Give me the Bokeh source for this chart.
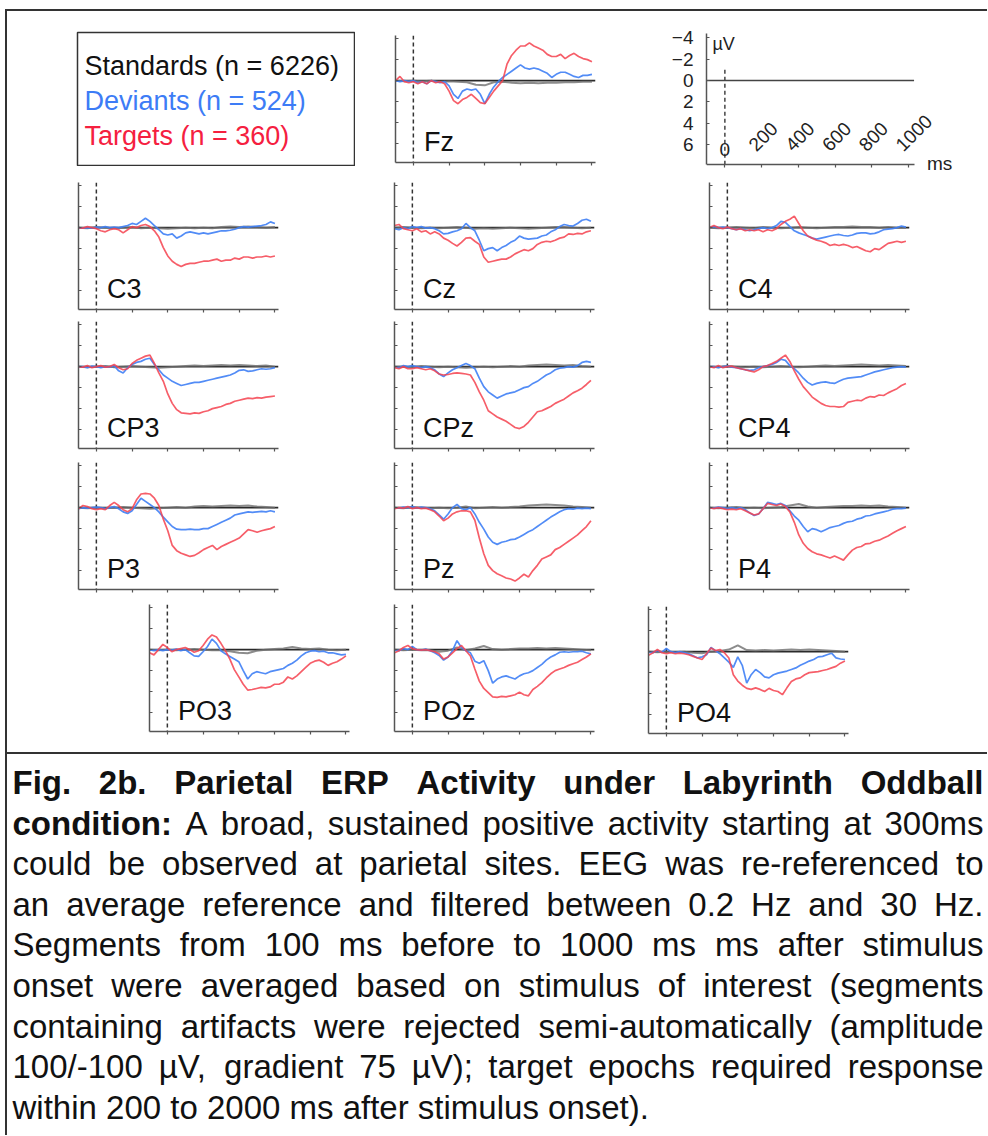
from math import pi
from bokeh.plotting import figure
from bokeh.models import (Range1d, FixedTicker, Span, Label, LabelSet,
                          ColumnDataSource, Spacer, Div)
from bokeh.layouts import row, column
from bokeh.embed import file_html
from bokeh.resources import INLINE
from bokeh.core.properties import value

# ------------------------------------------------------------------ data
TIME_MS = list(range(-100, 1001, 25))        # deviants / targets sampling
STD_TIME_MS = list(range(-100, 1001, 50))    # standards sampling
X_TICKS = [0, 200, 400, 600, 800, 1000]
Y_TICKS = [-4, -2, 0, 2, 4, 6]
SCALE_X_LABEL_TICKS = [200, 400, 600, 800, 1000]
SCALE_X_LABELS = ["200", "400", "600", "800", "1000"]

LEGEND_LABELS = ["Standards (n = 6226)", "Deviants (n = 524)", "Targets (n = 360)"]

FZ_TGT = [0.0, -0.4, 0.1, 0.2, 0.1, 0.3, 0.1, 0.3, 0.0,
          0.2, 0.1, 0.3, 1.0, 1.9, 2.2, 1.8, 1.6, 1.3,
          1.7, 2.1, 2.2, 1.6, 1.0, 0.5, 0.0, -1.6, -2.4,
          -2.9, -3.3, -3.3, -3.6, -3.3, -3.1, -2.9, -2.5, -2.3,
          -2.3, -2.5, -2.1, -2.4, -2.6, -2.3, -2.1, -2.0, -1.8]
FZ_DEV = [0.0, 0.1, 0.0, 0.1, 0.0, 0.2, 0.1, 0.3, 0.0,
          0.1, 0.2, 0.1, 0.5, 1.3, 1.7, 1.0, 0.8, 0.9,
          0.8, 1.3, 2.2, 1.3, 0.6, 0.1, -0.3, -0.6, -0.9,
          -1.2, -1.5, -1.2, -1.1, -1.2, -1.1, -0.9, -0.7, -0.3,
          -0.6, -0.8, -0.8, -0.6, -0.4, -0.3, -0.5, -0.5, -0.6]
FZ_STD = [0.0, 0.05, 0.0, 0.05, 0.0, 0.1, 0.05, 0.1, 0.15, 0.4, 0.45, 0.15,
          0.1, 0.2, 0.25, 0.2, 0.25, 0.2, 0.2, 0.15, 0.15, 0.1, 0.1]

C3_TGT = [0.0, 0.05, -0.1, 0.0, 0.1, 0.3, 0.4, 0.2, 0.1,
          0.2, 0.5, 0.2, -0.1, 0.0, -0.2, -0.3, -0.1, 0.3,
          0.9, 1.9, 2.7, 3.2, 3.5, 3.7, 3.5, 3.4, 3.4,
          3.3, 3.2, 3.2, 3.1, 3.0, 3.2, 3.1, 3.1, 2.9,
          3.0, 2.8, 2.8, 2.9, 2.8, 2.8, 2.7, 2.8, 2.7]
C3_DEV = [0.0, 0.05, 0.0, 0.05, -0.05, 0.0, -0.1, 0.0, -0.05,
          0.0, -0.1, -0.2, -0.4, -0.3, -0.6, -0.9, -0.6, -0.2,
          0.2, 0.6, 0.7, 0.6, 1.0, 0.8, 0.5, 0.4, 0.5,
          0.6, 0.5, 0.6, 0.5, 0.4, 0.3, 0.3, 0.25, 0.15,
          0.0, -0.1, -0.05, -0.1, -0.15, -0.2, -0.3, -0.55, -0.4]
C3_STD = [0.0, 0.05, -0.05, 0.0, 0.05, 0.0, -0.05, 0.05, 0.0, 0.05, 0.1, 0.05,
          0.0, 0.05, 0.0, 0.05, -0.05, -0.1, -0.05, -0.1, -0.05, 0.0, -0.05]

CZ_TGT = [-0.2, -0.3, 0.1, 0.2, 0.3, 0.1, 0.4, 0.3, 0.6,
          0.4, 0.6, 1.0, 1.2, 1.5, 1.75, 1.4, 1.0, 0.95,
          1.3, 1.6, 2.8, 3.3, 3.2, 3.1, 3.0, 3.0, 2.8,
          2.5, 2.3, 2.1, 2.2, 2.0, 1.6, 1.4, 1.3, 1.35,
          1.2, 1.0, 0.9, 0.6, 0.65, 0.55, 0.6, 0.4, 0.3]
CZ_DEV = [0.1, 0.2, 0.0, 0.1, -0.1, 0.0, -0.1, 0.05, 0.0,
          0.1, 0.3, 0.6, 0.55, 0.4, 0.3, 0.1, -0.4, 0.0,
          0.3, 1.2, 2.2, 2.0, 1.9, 2.2, 1.9, 1.7, 1.4,
          1.2, 0.8, 1.0, 1.1, 1.05, 1.0, 0.8, 0.7, 0.4,
          0.2, -0.1, -0.3, -0.2, -0.15, -0.4, -0.7, -0.8, -0.6]
CZ_STD = [0.0, -0.05, 0.0, 0.05, 0.0, 0.05, 0.0, -0.05, 0.0, 0.1, 0.05, 0.1,
          0.05, 0.0, 0.05, 0.1, 0.05, 0.0, -0.05, -0.05, 0.0, 0.05, 0.0]

C4_TGT = [0.0, -0.2, 0.0, 0.1, -0.05, 0.1, 0.2, 0.1, 0.3,
          0.2, 0.3, 0.2, 0.4, 0.2, 0.3, 0.1, -0.3, -0.6,
          -0.8, -1.1, -0.4, 0.3, 0.8, 1.0, 1.2, 1.3, 1.45,
          1.7, 1.6, 1.7, 1.6, 1.7, 1.9, 1.8, 2.0, 2.2,
          2.3, 2.0, 2.1, 1.8, 1.5, 1.4, 1.3, 1.4, 1.3]
C4_DEV = [0.0, -0.1, 0.0, -0.05, 0.0, 0.1, 0.2, 0.1, 0.2,
          0.3, 0.2, 0.1, 0.0, 0.1, 0.0, -0.2, -0.6, -0.5,
          -0.1, 0.3, 0.5, 0.65, 0.8, 1.0, 1.1, 1.0, 0.9,
          0.8, 0.7, 0.65, 0.75, 0.8, 0.7, 0.55, 0.5, 0.5,
          0.6, 0.55, 0.4, 0.2, 0.15, 0.1, 0.0, -0.15, -0.05]
C4_STD = [0.0, 0.05, 0.0, -0.05, 0.0, 0.05, -0.05, 0.0, 0.05, 0.0, -0.05, 0.0,
          0.05, 0.0, -0.05, -0.05, -0.1, -0.05, -0.05, 0.0, -0.05, 0.0, 0.0]

CP3_TGT = [0.0, 0.05, -0.1, 0.1, 0.0, -0.1, 0.05, 0.0, -0.2,
           0.1, 0.3, 0.2, -0.3, -0.6, -0.8, -1.0, -1.1, -0.3,
           0.6, 1.4, 2.6, 3.5, 4.1, 4.4, 4.45, 4.5, 4.4,
           4.45, 4.3, 4.2, 4.0, 3.9, 3.8, 3.6, 3.5, 3.3,
           3.2, 3.1, 3.0, 3.05, 2.95, 3.0, 2.9, 2.85, 2.8]
CP3_DEV = [0.0, 0.0, 0.1, -0.05, 0.0, 0.1, 0.0, 0.05, -0.1,
           0.4, 0.6, 0.1, -0.2, -0.4, -0.5, -0.7, -0.8, -0.2,
           0.3, 0.8, 1.1, 1.4, 1.6, 1.8, 1.7, 1.6, 1.5,
           1.5, 1.4, 1.3, 1.2, 1.1, 1.0, 0.9, 0.8, 0.6,
           0.35, 0.3, 0.45, 0.4, 0.3, 0.2, 0.25, 0.2, 0.1]
CP3_STD = [0.0, 0.05, 0.0, -0.05, 0.05, 0.0, -0.05, 0.0, 0.05, 0.1, 0.05, 0.0,
           -0.05, -0.1, -0.05, -0.1, -0.15, -0.1, -0.15, -0.1, -0.05, -0.1, 0.0]

CPZ_TGT = [0.1, 0.2, 0.0, 0.2, 0.2, 0.1, 0.2, 0.3, 0.2,
           0.4, 0.7, 0.8, 0.75, 0.65, 0.6, 0.65, 0.7, 0.8,
           1.5, 2.4, 3.2, 4.2, 4.5, 4.8, 5.0, 5.2, 5.5,
           5.8, 5.9, 5.7, 5.3, 4.8, 4.3, 4.2, 4.0, 3.8,
           3.5, 3.3, 3.1, 2.8, 2.5, 2.3, 2.05, 1.7, 1.3]
CPZ_DEV = [0.0, 0.1, -0.1, 0.0, -0.1, 0.0, 0.1, 0.0, 0.1,
           0.3, 0.7, 0.95, 0.6, 0.3, 0.1, -0.1, -0.3, -0.1,
           0.2, 1.1, 1.9, 2.4, 2.7, 3.0, 2.8, 2.6, 2.5,
           2.4, 2.2, 2.0, 1.9, 1.6, 1.4, 1.1, 0.8, 0.6,
           0.3, 0.15, 0.1, 0.0, 0.05, -0.1, -0.4, -0.5, -0.4]
CPZ_STD = [0.0, 0.0, 0.05, -0.05, 0.0, 0.05, 0.0, 0.05, 0.1, 0.05, 0.0, 0.05,
           0.0, -0.05, 0.0, -0.1, -0.15, -0.2, -0.15, -0.1, -0.15, -0.05, 0.0]

CP4_TGT = [0.0, 0.1, -0.1, 0.1, 0.0, -0.05, 0.1, 0.2, 0.3,
           0.4, 0.5, 0.3, 0.0, -0.1, -0.3, -0.5, -0.8, -1.1,
           -0.5, 0.4, 1.2, 1.9, 2.4, 2.9, 3.2, 3.5, 3.7,
           3.8, 3.8, 3.85, 3.8, 3.4, 3.3, 3.2, 3.25, 3.0,
           2.85, 2.9, 2.7, 2.75, 2.5, 2.3, 2.1, 1.8, 1.6]
CP4_DEV = [0.0, 0.0, 0.1, 0.0, -0.05, 0.05, 0.1, 0.2, 0.3,
           0.35, 0.3, 0.1, 0.0, -0.1, -0.2, -0.4, -0.7, -0.6,
           -0.1, 0.2, 0.6, 1.1, 1.5, 1.75, 1.6, 1.5, 1.45,
           1.55, 1.6, 1.4, 1.2, 1.1, 1.05, 1.0, 0.95, 0.8,
           0.65, 0.5, 0.4, 0.3, 0.2, 0.1, 0.05, 0.0, 0.05]
CP4_STD = [0.0, 0.05, -0.05, 0.0, 0.05, 0.0, 0.05, 0.0, -0.05, 0.0, 0.05, 0.0,
           -0.05, -0.1, -0.05, -0.1, -0.15, -0.2, -0.15, -0.1, -0.15, -0.1, -0.05]

P3_TGT = [0.1, -0.2, -0.1, 0.1, 0.2, 0.1, 0.2, -0.2, -0.5,
          -0.2, 0.2, 0.4, 0.1, -0.75, -1.3, -1.35, -1.3, -0.9,
          -0.2, 1.1, 2.2, 3.6, 4.1, 4.35, 4.5, 4.65, 4.55,
          4.3, 4.0, 3.8, 3.6, 4.0, 3.7, 3.5, 3.3, 3.1,
          2.9, 2.5, 2.1, 2.2, 2.35, 2.2, 2.1, 2.0, 1.8]
P3_DEV = [0.1, 0.0, 0.05, 0.0, -0.05, 0.0, 0.1, 0.0, -0.1,
          0.1, 0.4, 0.55, 0.3, -0.3, -0.9, -0.6, -0.3, 0.0,
          0.4, 0.9, 1.35, 1.8, 2.05, 2.1, 2.1, 2.05, 2.1,
          2.1, 2.0, 2.0, 1.8, 1.6, 1.4, 1.2, 1.0, 0.7,
          0.6, 0.5, 0.4, 0.45, 0.4, 0.35, 0.4, 0.3, 0.4]
P3_STD = [0.0, 0.05, 0.0, 0.05, 0.0, -0.05, 0.0, 0.05, 0.1, 0.05, 0.0, -0.05,
          0.0, -0.1, -0.15, -0.1, -0.15, -0.2, -0.15, -0.2, -0.1, -0.05, 0.0]

PZ_TGT = [0.1, 0.0, 0.05, -0.1, 0.1, 0.0, 0.1, 0.05, 0.2,
          0.4, 0.8, 1.25, 1.0, 0.6, 0.4, 0.3, 0.3, 0.4,
          1.2, 2.9, 4.4, 5.5, 6.0, 6.3, 6.5, 6.7, 6.8,
          7.0, 6.7, 6.35, 6.6, 6.0, 5.5, 4.9, 4.7, 4.5,
          4.0, 3.8, 3.5, 3.2, 2.9, 2.6, 2.2, 1.8, 1.25]
PZ_DEV = [0.0, 0.05, -0.05, 0.0, -0.1, 0.05, -0.05, 0.0, 0.1,
          0.3, 0.7, 1.1, 0.6, 0.0, -0.3, 0.1, 0.2, 0.0,
          0.6, 1.4, 2.05, 2.8, 3.3, 3.5, 3.3, 3.2, 3.05,
          3.0, 2.8, 2.55, 2.3, 2.1, 1.8, 1.5, 1.2, 0.9,
          0.65, 0.4, 0.2, 0.1, 0.15, 0.05, 0.1, 0.05, 0.1]
PZ_STD = [0.0, 0.05, -0.05, 0.0, 0.05, 0.0, 0.05, 0.0, -0.1, 0.05, 0.0, -0.05,
          0.0, -0.05, -0.1, -0.2, -0.25, -0.3, -0.25, -0.2, -0.1, -0.05, 0.0]

P4_TGT = [0.0, 0.1, 0.0, 0.1, 0.2, 0.15, 0.2, 0.1, 0.3,
          0.5, 0.7, 0.6, 0.1, -0.4, -0.3, -0.2, -0.35, -0.1,
          0.4, 1.4, 2.6, 3.4, 3.9, 4.2, 4.4, 4.5, 4.65,
          4.8, 4.6, 4.8, 5.0, 4.5, 4.05, 3.8, 3.7, 3.45,
          3.4, 3.2, 3.1, 2.9, 2.7, 2.45, 2.2, 2.0, 1.8]
P4_DEV = [0.0, 0.05, -0.05, 0.0, 0.1, 0.0, 0.1, 0.0, 0.2,
          0.5, 0.75, 0.6, 0.1, -0.5, -0.4, -0.3, -0.4, -0.2,
          0.3, 0.8, 1.2, 1.8, 2.3, 2.0, 2.1, 2.3, 2.1,
          1.9, 1.8, 1.7, 1.5, 1.35, 1.3, 1.1, 1.0, 0.8,
          0.75, 0.6, 0.5, 0.4, 0.3, 0.15, 0.1, 0.1, 0.05]
P4_STD = [0.0, 0.05, 0.0, -0.05, 0.05, 0.0, 0.05, 0.0, -0.05, -0.2, -0.35, -0.1,
          0.0, -0.05, -0.1, -0.15, -0.15, -0.2, -0.15, -0.2, -0.1, -0.05, 0.0]

PO3_TGT = [0.3, 0.5, 0.0, -0.5, -0.2, 0.2, 0.0, -0.1, -0.2,
           0.0, 0.25, 0.1, -0.4, -1.0, -1.4, -1.2, -0.6, 0.1,
           0.9, 1.9, 2.6, 3.3, 3.85, 3.8, 3.7, 3.6, 3.65,
           3.55, 3.3, 3.3, 3.1, 2.6, 2.8, 2.5, 2.1, 1.7,
           1.3, 1.1, 1.0, 1.2, 1.5, 1.3, 1.15, 0.9, 0.6]
PO3_DEV = [0.0, 0.1, 0.0, 0.1, 0.0, 0.05, -0.05, 0.1, 0.0,
           0.3, 0.6, 0.65, 0.2, -0.3, -1.0, -0.6, 0.1, 0.4,
           0.65, 0.9, 1.15, 2.0, 2.8, 2.3, 2.1, 2.2, 2.3,
           2.1, 2.0, 1.9, 1.8, 1.5, 1.3, 1.0, 0.6, 0.3,
           0.15, 0.1, 0.2, 0.15, 0.3, 0.3, 0.4, 0.5, 0.45]
PO3_STD = [0.0, 0.05, 0.0, 0.05, 0.0, -0.05, 0.0, 0.05, 0.05, 0.15, 0.3, 0.35,
           0.1, 0.0, -0.05, -0.1, -0.25, -0.1, -0.05, -0.1, 0.0, 0.05, 0.0]

POZ_TGT = [0.3, 0.1, -0.2, -0.4, -0.1, 0.0, 0.05, 0.0, 0.1,
           0.2, 0.4, 0.9, 0.7, 0.3, -0.1, -0.4, 0.1, 0.6,
           1.85, 3.0, 3.7, 4.1, 4.5, 4.55, 4.45, 4.5, 4.4,
           4.3, 4.05, 4.3, 4.4, 3.8, 3.5, 3.15, 2.7, 2.3,
           2.0, 1.85, 1.7, 1.5, 1.35, 1.2, 0.95, 0.7, 0.4]
POZ_DEV = [0.0, 0.1, -0.1, 0.0, -0.3, 0.0, 0.05, -0.05, 0.1,
           0.3, 0.55, 1.0, 0.7, 0.1, -0.85, -0.2, 0.1, 0.3,
           1.1, 1.3, 1.05, 2.0, 3.2, 2.8, 2.6, 2.5, 2.65,
           2.8, 2.5, 2.3, 2.2, 2.0, 1.7, 1.4, 1.0, 0.7,
           0.5, 0.25, 0.2, 0.25, 0.2, 0.2, 0.15, 0.3, 0.4]
POZ_STD = [0.0, 0.05, 0.0, 0.05, 0.05, 0.2, 0.1, -0.2, 0.05, -0.1, -0.35, -0.05,
           0.0, -0.05, -0.1, -0.1, -0.15, -0.1, -0.15, -0.1, -0.05, 0.0, 0.05]

PO4_TGT = [0.35, 0.1, -0.2, 0.1, 0.2, 0.1, 0.2, 0.15, 0.2,
           0.3, 0.45, 0.6, 0.75, 0.2, -0.35, -0.1, -0.2, 0.1,
           0.6, 2.2, 2.8, 3.2, 3.5, 3.6, 3.45, 3.6, 3.8,
           3.5, 3.7, 3.8, 4.1, 3.45, 2.85, 2.6, 2.5, 2.2,
           2.0, 1.95, 1.9, 1.8, 1.7, 1.55, 1.4, 1.1, 0.9]
PO4_DEV = [0.0, 0.1, -0.1, 0.05, -0.3, 0.0, 0.1, 0.0, 0.1,
           0.2, 0.4, 0.6, 0.5, 0.3, -0.4, -0.1, 0.2, 0.6,
           1.0, 1.5, 0.5, 1.3, 3.0, 2.2, 1.7, 2.0, 2.4,
           2.5, 2.2, 2.05, 1.95, 1.85, 1.7, 1.55, 1.3, 1.1,
           0.9, 0.75, 0.5, 0.45, 0.3, 0.15, 0.6, 0.7, 0.75]
PO4_STD = [0.0, 0.05, 0.0, 0.05, 0.0, 0.1, 0.15, 0.0, -0.05, -0.2, -0.6, -0.15,
           -0.1, -0.15, -0.1, -0.15, -0.2, -0.15, -0.2, -0.15, -0.1, -0.05, 0.0]

CAPTION_LINES = [
    "Fig. 2b. Parietal ERP Activity under Labyrinth Oddball",
    "condition: A broad, sustained positive activity starting at 300ms",
    "could be observed at parietal sites. EEG was re-referenced to",
    "an average reference and filtered between 0.2 Hz and 30 Hz.",
    "Segments from 100 ms before to 1000 ms ms after stimulus",
    "onset were averaged based on stimulus of interest (segments",
    "containing artifacts were rejected semi-automatically (amplitude",
    "100/-100 \u00b5V, gradient 75 \u00b5V); target epochs required response",
    "within 200 to 2000 ms after stimulus onset).",
]
CAPTION_BOLD_WORDS = [8, 1, 0, 0, 0, 0, 0, 0, 0]

# ------------------------------------------------------------------ styles
FONT = "Liberation Sans"
AXIS_COLOR = "#555555"
STD_COLOR = "#6f6f6f"
ZERO_COLOR = "#2a2a2a"
DEV_COLOR = "#3f7ff5"
TGT_COLOR = "#f4424f"
LEGEND_COLORS = ["#111111", "#3d7cf6", "#f5203f"]
BORDER_COLOR = "#333333"

PANEL_W, PANEL_H = 212, 135          # 200 x 127 frame
X_RANGE = (-100, 1020)
Y_RANGE = (7.8, -4.3)                # negative up (EEG convention)


def clean(p):
    p.toolbar_location = None
    p.outline_line_color = None
    for g in p.grid:
        g.visible = False
    p.background_fill_color = "white"
    p.border_fill_color = "white"


def style_axes(p, y_labels=False):
    xa, ya = p.xaxis[0], p.yaxis[0]
    # tick marks without tick labels: the marks are drawn as minor ticks
    xa.ticker = FixedTicker(ticks=[], minor_ticks=X_TICKS)
    if y_labels:
        ya.ticker = FixedTicker(ticks=Y_TICKS, minor_ticks=[])
    else:
        ya.ticker = FixedTicker(ticks=[], minor_ticks=Y_TICKS)
    for ax in (xa, ya):
        ax.axis_line_color = AXIS_COLOR
        ax.axis_line_width = 1.5
        ax.major_tick_line_color = AXIS_COLOR
        ax.major_tick_line_width = 1.2
        ax.minor_tick_line_color = AXIS_COLOR
        ax.minor_tick_line_width = 1.2
    xa.minor_tick_in, xa.minor_tick_out = 0, 3
    ya.minor_tick_in, ya.minor_tick_out = 3, 0
    ya.major_tick_in, ya.major_tick_out = 3, 0
    if y_labels:
        ya.major_label_text_font = FONT
        ya.major_label_text_font_size = "19px"
        ya.major_label_text_color = "#222222"
        ya.major_label_standoff = 13


def panel(name, dev, tgt, std, top=2):
    p = figure(width=PANEL_W, height=PANEL_H + top - 2,
               x_range=Range1d(*X_RANGE), y_range=Range1d(*Y_RANGE),
               min_border_left=6, min_border_right=6,
               min_border_top=top, min_border_bottom=6,
               output_backend="svg", toolbar_location=None)
    clean(p)
    style_axes(p)
    p.add_layout(Span(location=0, dimension="height", line_color="#333333",
                      line_dash="4 3", line_width=1.5, level="underlay"))
    p.add_layout(Span(location=0, dimension="width", line_color=ZERO_COLOR,
                      line_width=1.6, level="underlay"))
    p.line(STD_TIME_MS, std, line_color=STD_COLOR, line_width=2.0, line_alpha=0.8)
    p.line(TIME_MS, dev, line_color=DEV_COLOR, line_width=1.7, line_alpha=0.9)
    p.line(TIME_MS, tgt, line_color=TGT_COLOR, line_width=1.7, line_alpha=0.85)
    p.add_layout(Label(x=60, y=5.8, text=name, text_font=FONT,
                       text_font_size="27px", text_color="#111111",
                       text_baseline="middle"))
    return p


# ------------------------------------------------------------------ legend box
legend = figure(width=279, height=135, x_range=Range1d(0, 277), y_range=Range1d(133, 0),
                x_axis_location=None, y_axis_location=None,
                min_border_left=1, min_border_right=1, min_border_top=1, min_border_bottom=1,
                output_backend="svg", toolbar_location=None)
clean(legend)
legend.outline_line_color = BORDER_COLOR
legend.outline_line_width = 1.5
legend.text(x=[7, 7, 7], y=[33, 68, 103], text=LEGEND_LABELS, text_color=LEGEND_COLORS,
            text_font=value(FONT), text_font_size=value("27px"),
            text_baseline="middle", text_align="left")

# ------------------------------------------------------------------ scale panel
SCALE_AXIS_END = 1030
SCALE_Y_BOTTOM = 7.9
scale = figure(width=317, height=152, x_range=Range1d(-100, 1370), y_range=Range1d(8.9, -4.4),
               min_border_left=45, min_border_right=2, min_border_top=6, min_border_bottom=4,
               output_backend="svg", toolbar_location=None)
clean(scale)
style_axes(scale, y_labels=True)
scale.xaxis[0].bounds = (-100, SCALE_AXIS_END)
scale.xaxis[0].fixed_location = SCALE_Y_BOTTOM
scale.yaxis[0].bounds = (-4.4, SCALE_Y_BOTTOM)
scale.line(x=[-100, SCALE_AXIS_END], y=[0, 0], line_color="#444444", line_width=1.5)
scale.segment(x0=[0], y0=[-1.0], x1=[0], y1=[SCALE_Y_BOTTOM], line_color="#444444",
              line_dash="4 3", line_width=1.5)
scale.add_layout(LabelSet(x="x", y="y", text="text",
                          source=ColumnDataSource(dict(x=SCALE_X_LABEL_TICKS,
                                                       y=[6.75] * len(SCALE_X_LABEL_TICKS),
                                                       text=SCALE_X_LABELS)),
                          angle=pi / 4, x_offset=-5, text_font=value(FONT),
                          text_font_size=value("19px"), text_color="#222222",
                          text_align="left", text_baseline="bottom"))
scale.add_layout(Label(x=0, y=6.5, text="0", text_font=FONT, text_font_size="19px",
                       text_color="#222222", text_align="center", text_baseline="middle"))
scale.add_layout(Label(x=-68, y=-4.4, text="\u00b5V", text_font=FONT, text_font_size="18px",
                       text_color="#222222", text_align="left", text_baseline="top"))
scale.add_layout(Label(x=1100, y=7.75, text="ms", text_font=FONT, text_font_size="19px",
                       text_color="#222222", text_align="left", text_baseline="middle"))

# ------------------------------------------------------------------ panels
fz = panel("Fz", FZ_DEV, FZ_TGT, FZ_STD)
c3 = panel("C3", C3_DEV, C3_TGT, C3_STD)
cz = panel("Cz", CZ_DEV, CZ_TGT, CZ_STD)
c4 = panel("C4", C4_DEV, C4_TGT, C4_STD)
cp3 = panel("CP3", CP3_DEV, CP3_TGT, CP3_STD)
cpz = panel("CPz", CPZ_DEV, CPZ_TGT, CPZ_STD)
cp4 = panel("CP4", CP4_DEV, CP4_TGT, CP4_STD)
p3 = panel("P3", P3_DEV, P3_TGT, P3_STD)
pz = panel("Pz", PZ_DEV, PZ_TGT, PZ_STD)
p4 = panel("P4", P4_DEV, P4_TGT, P4_STD)
po3 = panel("PO3", PO3_DEV, PO3_TGT, PO3_STD)
poz = panel("POz", POZ_DEV, POZ_TGT, POZ_STD)
po4 = panel("PO4", PO4_DEV, PO4_TGT, PO4_STD, top=4)


def band(items, band_h):
    kids = []
    for gap, fig, off in items:
        kids.append(Spacer(width=gap, height=band_h))
        kids.append(column(Spacer(width=fig.width, height=off), fig,
                           Spacer(width=fig.width, height=band_h - off - fig.height)))
    return row(kids)


panels_area = column(
    band([(69, legend, 20), (34, fz, 22), (60, scale, 16)], 169),
    band([(65, c3, 0), (104, cz, 0), (103, c4, 0)], 139),
    band([(65, cp3, 0), (104, cpz, 0), (103, cp4, 0)], 141),
    band([(65, p3, 0), (104, pz, 0), (103, p4, 0)], 142),
    band([(136, po3, 0), (33, poz, 0), (42, po4, 0)], 150),
)

# ------------------------------------------------------------------ caption
W_REG = {' ': 278, '(': 333, ')': 333, ',': 278, '-': 333, '.': 278, '/': 278,
         ':': 278, ';': 278, '\u00b5': 556,
         'A': 667, 'B': 667, 'C': 722, 'D': 722, 'E': 667, 'F': 611, 'G': 778,
         'H': 722, 'I': 278, 'L': 556, 'O': 778, 'P': 667, 'R': 722, 'S': 667,
         'V': 667, 'Z': 611,
         'a': 556, 'b': 556, 'c': 500, 'd': 556, 'e': 556, 'f': 278, 'g': 556,
         'h': 556, 'i': 222, 'j': 222, 'k': 500, 'l': 222, 'm': 833, 'n': 556,
         'o': 556, 'p': 556, 'q': 556, 'r': 333, 's': 500, 't': 278, 'u': 556,
         'v': 500, 'w': 722, 'x': 500, 'y': 500, 'z': 500}
W_BOLD = {' ': 278, '(': 333, ')': 333, ',': 278, '-': 333, '.': 278, '/': 278,
          ':': 333, ';': 333,
          'A': 722, 'B': 722, 'C': 722, 'D': 722, 'E': 667, 'F': 611, 'G': 778,
          'H': 722, 'I': 278, 'L': 611, 'O': 778, 'P': 667, 'R': 722, 'S': 667,
          'a': 556, 'b': 611, 'c': 556, 'd': 611, 'e': 556, 'f': 333, 'g': 611,
          'h': 611, 'i': 278, 'j': 278, 'k': 556, 'l': 278, 'm': 889, 'n': 611,
          'o': 611, 'p': 611, 'q': 611, 'r': 389, 's': 556, 't': 333, 'u': 611,
          'v': 556, 'w': 778, 'x': 556, 'y': 556, 'z': 500}
CAP_FS = 33
CAP_W, CAP_H = 980, 381
CAP_LEFT, CAP_RIGHT = 5, 976
CAP_MID0, CAP_STEP = 28, 40.6


def word_w(word, bold):
    tab = W_BOLD if bold else W_REG
    return sum(tab.get(ch, 556) for ch in word) * CAP_FS / 1000.0


groups = {(b, a): dict(x=[], y=[], text=[]) for b in (False, True) for a in ("left", "right")}
for li, line in enumerate(CAPTION_LINES):
    words = line.split(" ")
    nb = CAPTION_BOLD_WORDS[li]
    bold = [i < nb for i in range(len(words))]
    widths = [word_w(w, b) for w, b in zip(words, bold)]
    justify = li < len(CAPTION_LINES) - 1
    if justify:
        gap = (CAP_RIGHT - CAP_LEFT - sum(widths)) / (len(words) - 1)
    else:
        gap = W_REG[' '] * CAP_FS / 1000.0
    ym = CAP_MID0 + li * CAP_STEP
    x = CAP_LEFT
    for i, (w, b, wd) in enumerate(zip(words, bold, widths)):
        if justify and i == len(words) - 1:
            g = groups[(b, "right")]
            g["x"].append(CAP_RIGHT)
        else:
            g = groups[(b, "left")]
            g["x"].append(x)
        g["y"].append(ym)
        g["text"].append(w)
        x += wd + gap

caption = figure(width=CAP_W, height=CAP_H, x_range=Range1d(0, CAP_W), y_range=Range1d(CAP_H, 0),
                 x_axis_location=None, y_axis_location=None,
                 min_border_left=0, min_border_right=0, min_border_top=0, min_border_bottom=0,
                 output_backend="svg", toolbar_location=None)
clean(caption)
for (b, a), d in groups.items():
    if not d["text"]:
        continue
    caption.text(x="x", y="y", text="text", source=ColumnDataSource(d),
                 text_font=value(FONT), text_font_size=value(f"{CAP_FS}px"),
                 text_font_style="bold" if b else "normal",
                 text_color="#111111", text_align=a, text_baseline="middle")


# ------------------------------------------------------------------ frame
def strip(w, h):
    return Div(text="", width=w, height=h, margin=(0, 0, 0, 0),
               styles={"background-color": BORDER_COLOR})


content = column(panels_area, strip(CAP_W, 2), caption)
layout = column(
    Spacer(width=987, height=9),
    row(Spacer(width=5, height=1126),
        column(strip(982, 2),
               row(strip(2, 1124), content))),
)

with open("out.html", "w") as f:
    f.write(file_html(layout, INLINE, title="Parietal ERP Activity"))
